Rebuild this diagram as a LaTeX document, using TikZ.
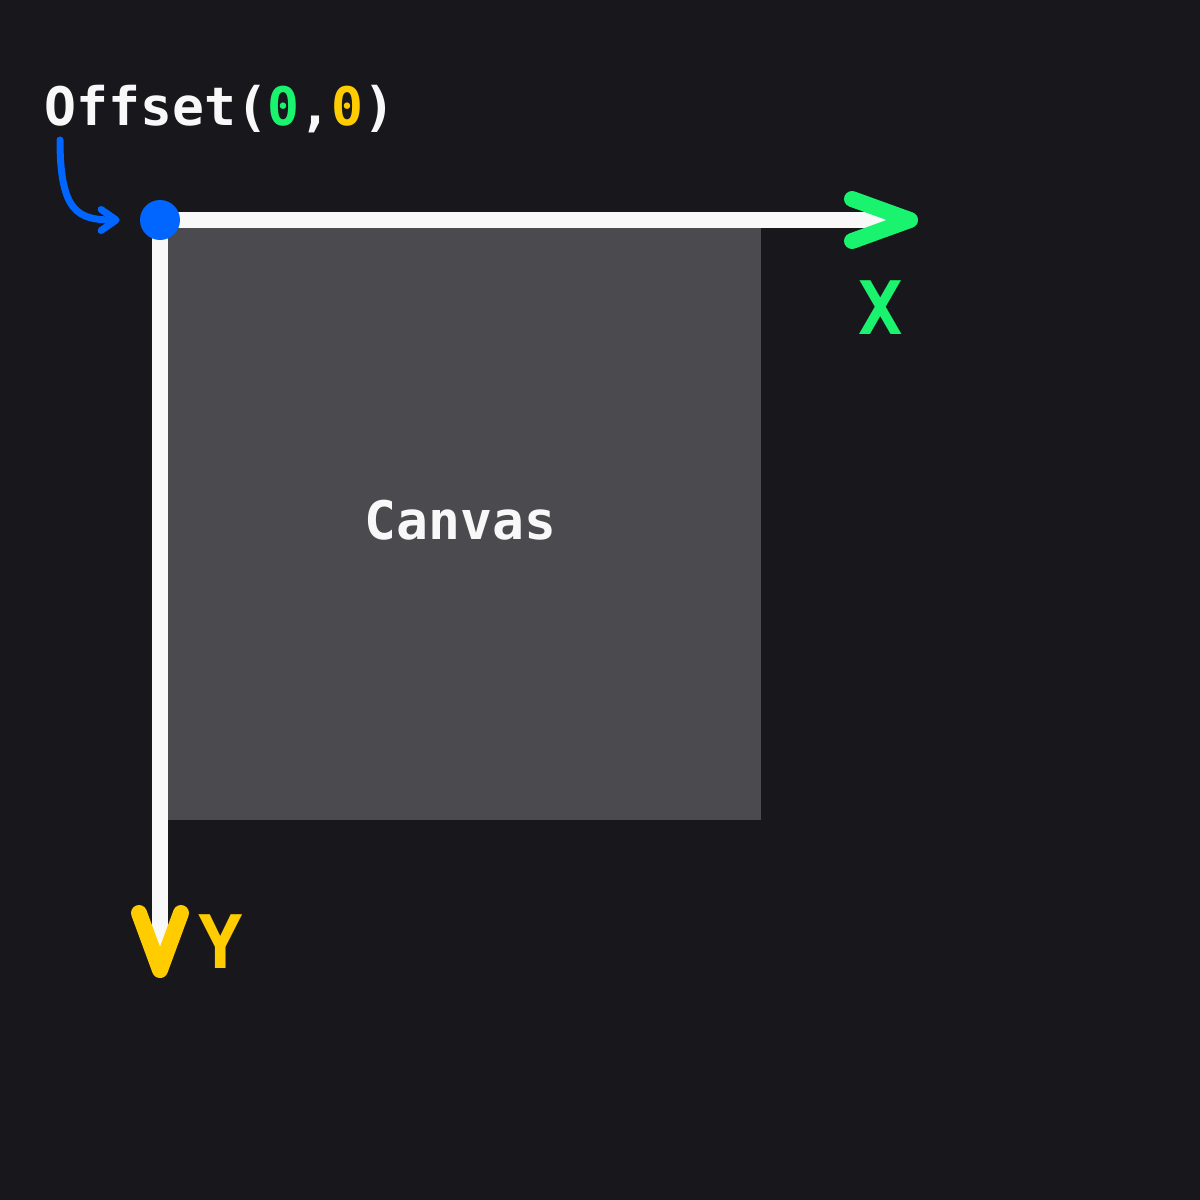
\documentclass[tikz,border=0pt]{standalone}
\usepackage{fontspec}
\setmonofont{DejaVu Sans Mono}
\usepackage{xcolor}
\usepackage{tikz}
\usetikzlibrary{arrows.meta,positioning,calc}

\definecolor{bgdark}{HTML}{18171C}
\definecolor{canvasgray}{HTML}{4B4A4F}
\definecolor{axiswhite}{HTML}{F8F8F8}
\definecolor{xgreen}{HTML}{1AF36E}
\definecolor{yyellow}{HTML}{FFCC00}
\definecolor{pointblue}{HTML}{0066FF}

\begin{document}
\begin{tikzpicture}[
    x=0.02cm, y=-0.02cm,
    font=\ttfamily\bfseries\fontsize{30.2pt}{32pt}\selectfont,
    canvasbox/.style={rectangle, fill=canvasgray, minimum width=12.02cm, minimum height=12cm, inner sep=0pt, text=axiswhite},
    axis/.style={draw=axiswhite, line width=0.32cm},
    chevron/.style={line width=0.32cm, line cap=round, line join=round},
    dot/.style={circle, fill=pointblue, minimum size=0.8cm, inner sep=0pt},
    axislabel/.style={font=\ttfamily\bfseries\fontsize{42pt}{44pt}\selectfont},
    pointer/.style={-{Straight Barb[round, length=0.3cm, width=0.42cm]}, draw=pointblue, line width=0.14cm, line cap=round, shorten >=0.4cm}
]
    % Background
    \fill[bgdark] (0,0) rectangle (1200,1200);

    % Canvas
    \node[canvasbox] (canvas) at (460.5,520) {Canvas};

    % Axes
    \coordinate (corner) at (160,220);
    \coordinate (xend) at (910,220);
    \coordinate (yend) at (160,970);
    \draw[axis] (corner) -- (xend);
    \draw[axis] (corner) -- (yend);
    \draw[chevron, xgreen] ($(xend)+(-58,-21)$) -- (xend) -- ($(xend)+(-58,21)$);
    \draw[chevron, yyellow] ($(yend)+(-21,-57)$) -- (yend) -- ($(yend)+(21,-57)$);
    \node[dot] (origin) at (corner) {};

    % Axis labels
    \node[axislabel, text=xgreen] (xlabel) at (881,308) {X};
    \node[axislabel, text=yyellow] (ylabel) at (221,942) {Y};

    % Offset label
    \node[anchor=base west, inner sep=0pt, text=axiswhite] (offset) at (44,125) {Offset(\textcolor{xgreen}{0},\textcolor{yyellow}{0})};
    \coordinate (pointerstart) at (60,140);
    \draw[pointer] (pointerstart) .. controls (60,212) and (78,220) .. (origin);

\end{tikzpicture}
\end{document}
